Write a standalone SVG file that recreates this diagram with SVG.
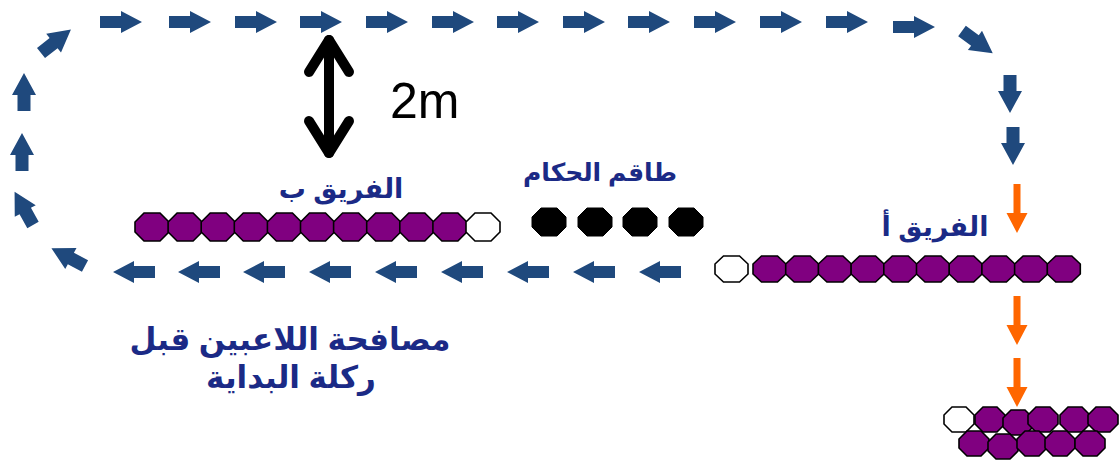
<svg xmlns="http://www.w3.org/2000/svg" xmlns:xlink="http://www.w3.org/1999/xlink" width="1120" height="465" viewBox="0 0 1120 465">
<style>
.bl{fill:#1F497D}
.or{fill:#FF6600}
.pu{fill:#800080;stroke:#000;stroke-width:1.6}
.wh{fill:#fff;stroke:#000;stroke-width:1.6}
.bk{fill:#000;stroke:#000;stroke-width:1}
.lbl{font-family:"Liberation Sans","DejaVu Sans",sans-serif;font-weight:bold;fill:#1B2A86;text-anchor:middle}
.dim{font-family:"Liberation Sans",Arial,sans-serif;font-size:50px;fill:#000}
</style>
<defs>
<path id="ah" d="M0,-6 H21 V-11 L42,0 L21,11 V6 H0 Z"/>
<path id="av" d="M0,-6.5 H16 V-12 L38,0 L16,12 V6.5 H0 Z"/>
<path id="ao" d="M-3.5,0 V29 H-10.5 L0,49 L10.5,29 H3.5 V0 Z"/>
<polygon id="oB" points="9,0 25,0 34,9 34,19 25,28 9,28 0,19 0,9"/>
<polygon id="oA" points="8.5,0 24.5,0 33,8 33,18 24.5,26 8.5,26 0,18 0,8"/>
<polygon id="oC" points="8,0 22,0 30,8 30,17 22,25 8,25 0,17 0,8"/>
</defs>
<g id="connectors">
 <g id="path-top" class="bl">
  <use xlink:href="#ah" transform="translate(100,22)"/>
  <use xlink:href="#ah" transform="translate(169,22)"/>
  <use xlink:href="#ah" transform="translate(235,22)"/>
  <use xlink:href="#ah" transform="translate(300,22)"/>
  <use xlink:href="#ah" transform="translate(366,22)"/>
  <use xlink:href="#ah" transform="translate(432,22)"/>
  <use xlink:href="#ah" transform="translate(497,22)"/>
  <use xlink:href="#ah" transform="translate(563,22)"/>
  <use xlink:href="#ah" transform="translate(628,22)"/>
  <use xlink:href="#ah" transform="translate(694,22)"/>
  <use xlink:href="#ah" transform="translate(760,22)"/>
  <use xlink:href="#ah" transform="translate(826,22)"/>
  <use xlink:href="#ah" transform="translate(893,27)"/>
  <use xlink:href="#av" transform="translate(962,31) rotate(36)"/>
  <use xlink:href="#av" transform="translate(1010,75) rotate(90)"/>
  <use xlink:href="#av" transform="translate(1013,127) rotate(90)"/>
 </g>
 <g id="path-bottom" class="bl">
  <use xlink:href="#ah" transform="translate(681,272) rotate(180)"/>
  <use xlink:href="#ah" transform="translate(615,272) rotate(180)"/>
  <use xlink:href="#ah" transform="translate(549,272) rotate(180)"/>
  <use xlink:href="#ah" transform="translate(483,272) rotate(180)"/>
  <use xlink:href="#ah" transform="translate(417,272) rotate(180)"/>
  <use xlink:href="#ah" transform="translate(351,272) rotate(180)"/>
  <use xlink:href="#ah" transform="translate(285,272) rotate(180)"/>
  <use xlink:href="#ah" transform="translate(220,272) rotate(180)"/>
  <use xlink:href="#ah" transform="translate(155,272) rotate(180)"/>
  <use xlink:href="#av" transform="translate(85,266) rotate(-152)"/>
  <use xlink:href="#av" transform="translate(33,225) rotate(-119)"/>
  <use xlink:href="#av" transform="translate(22,171) rotate(-90)"/>
  <use xlink:href="#av" transform="translate(24,111) rotate(-90)"/>
  <use xlink:href="#av" transform="translate(41,53) rotate(-38)"/>
 </g>
 <g id="path-orange" class="or">
  <use xlink:href="#ao" transform="translate(1017,184)"/>
  <use xlink:href="#ao" transform="translate(1017,296)"/>
  <use xlink:href="#ao" transform="translate(1017,358)"/>
 </g>
 <g id="distance" fill="none" stroke="#000" stroke-width="10" stroke-linecap="round" stroke-linejoin="round">
  <path d="M329,40 V153"/>
  <path d="M309,72 L329,40 L349,72"/>
  <path d="M309,121 L329,153 L349,121"/>
 </g>
</g>
<text class="dim" x="390" y="118">2m</text>
<g id="team-b">
 <text class="lbl" x="341" y="198" font-size="27">الفريق ب</text>
 <use xlink:href="#oB" class="pu" x="135" y="213"/>
 <use xlink:href="#oB" class="pu" x="168.1" y="213"/>
 <use xlink:href="#oB" class="pu" x="201.2" y="213"/>
 <use xlink:href="#oB" class="pu" x="234.3" y="213"/>
 <use xlink:href="#oB" class="pu" x="267.4" y="213"/>
 <use xlink:href="#oB" class="pu" x="300.5" y="213"/>
 <use xlink:href="#oB" class="pu" x="333.6" y="213"/>
 <use xlink:href="#oB" class="pu" x="366.7" y="213"/>
 <use xlink:href="#oB" class="pu" x="399.8" y="213"/>
 <use xlink:href="#oB" class="pu" x="432.9" y="213"/>
 <use xlink:href="#oB" class="wh" x="466" y="213"/>
</g>
<g id="referees">
 <text class="lbl" x="600" y="181" font-size="25">طاقم الحكام</text>
 <use xlink:href="#oB" class="bk" x="532" y="208"/>
 <use xlink:href="#oB" class="bk" x="578" y="208"/>
 <use xlink:href="#oB" class="bk" x="623" y="208"/>
 <use xlink:href="#oB" class="bk" x="669" y="208"/>
</g>
<g id="team-a">
 <text class="lbl" x="935" y="236" font-size="27">الفريق أ</text>
 <use xlink:href="#oA" class="wh" x="715" y="256"/>
 <use xlink:href="#oA" class="pu" x="753" y="256"/>
 <use xlink:href="#oA" class="pu" x="785.7" y="256"/>
 <use xlink:href="#oA" class="pu" x="818.4" y="256"/>
 <use xlink:href="#oA" class="pu" x="851.1" y="256"/>
 <use xlink:href="#oA" class="pu" x="883.8" y="256"/>
 <use xlink:href="#oA" class="pu" x="916.5" y="256"/>
 <use xlink:href="#oA" class="pu" x="949.2" y="256"/>
 <use xlink:href="#oA" class="pu" x="981.9" y="256"/>
 <use xlink:href="#oA" class="pu" x="1014.6" y="256"/>
 <use xlink:href="#oA" class="pu" x="1047.3" y="256"/>
</g>
<g id="handshake-group">
 <use xlink:href="#oC" class="wh" x="944" y="407"/>
 <use xlink:href="#oC" class="pu" x="975" y="407"/>
 <use xlink:href="#oC" class="pu" x="1003" y="410"/>
 <use xlink:href="#oC" class="pu" x="1028" y="407"/>
 <use xlink:href="#oC" class="pu" x="1060" y="407"/>
 <use xlink:href="#oC" class="pu" x="1088" y="407"/>
 <use xlink:href="#oC" class="pu" x="959" y="431"/>
 <use xlink:href="#oC" class="pu" x="988" y="434"/>
 <use xlink:href="#oC" class="pu" x="1017" y="431"/>
 <use xlink:href="#oC" class="pu" x="1045" y="431"/>
 <use xlink:href="#oC" class="pu" x="1075" y="431"/>
</g>
<g id="caption">
 <text class="lbl" x="290" y="350" font-size="31">مصافحة اللاعبين قبل</text>
 <text class="lbl" x="291" y="388" font-size="31">ركلة البداية</text>
</g>
</svg>
